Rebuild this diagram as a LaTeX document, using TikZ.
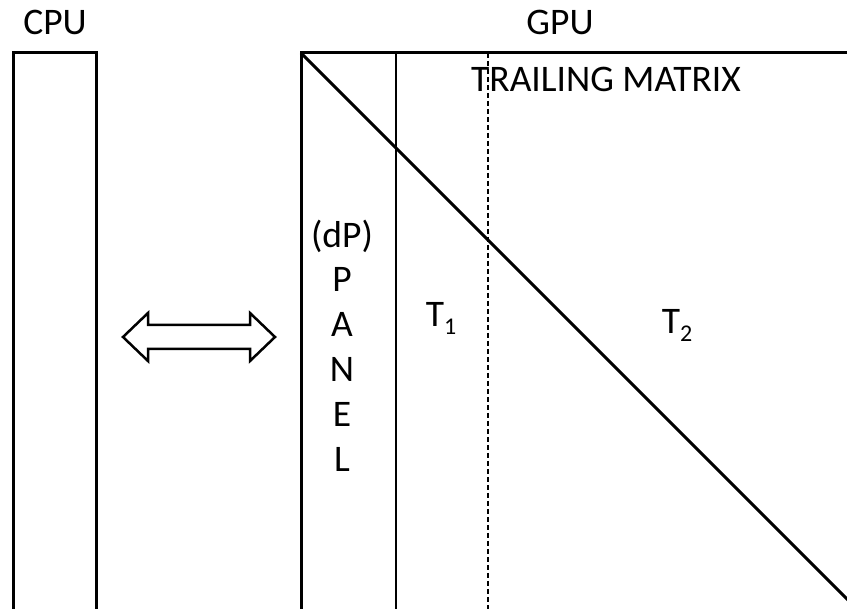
\documentclass[tikz,border=0pt]{standalone}
\usepackage{fontspec}
\setmainfont{Carlito}
\usepackage{tikz}
\usetikzlibrary{positioning}

\newcommand{\idx}[1]{\raisebox{-8pt}{\fontsize{24}{24}\selectfont #1}}

\tikzset{
  frame/.style={line width=3pt, line join=miter},
  split/.style={line width=1.3pt},
  txt/.style={anchor=base, inner sep=0pt, font=\fontsize{37.5}{45}\selectfont},
}

\begin{document}
\begin{tikzpicture}[x=1pt, y=-1pt]
\useasboundingbox (0,0) rectangle (847,609);
\clip (0,0) rectangle (847,609);

% corners of the two memories
\coordinate (cpuL) at (13,53);
\coordinate (cpuR) at (96,53);
\coordinate (gpuL) at (301,53);
\coordinate (diagEnd) at (860,612);

% CPU block (open at the bottom)
\draw[frame] (13,620) -- (cpuL) -- (cpuR) -- (96,620);
% GPU block
\draw[frame] (301,620) -- (gpuL) -- (860,53);
\draw[frame] (gpuL) -- (diagEnd);

% panel / trailing splits
\draw[split] (396,53) -- (396,620);
\draw[split, dashed, dash pattern=on 5pt off 3pt] (488,53) -- (488,620);

% transfer arrow
\draw[line width=2.5pt, line join=miter]
  (123,337) -- (148,313) -- (148,325) -- (250,325) -- (250,313) -- (275,337)
  -- (250,361) -- (250,349) -- (148,349) -- (148,361) -- cycle;

% labels
\node[txt] (cpu) at (55,35) {CPU};
\node[txt] (gpu) at (560,35) {GPU};
\node[txt] (trail) at (606,92) {TRAILING MATRIX};
\node[txt, align=center] (panel) at (342,472) {(dP)\\P\\A\\N\\E\\L};
\node[txt] (t1) at (441,327) {T\idx{1}};
\node[txt] (t2) at (677,334) {T\idx{2}};
\end{tikzpicture}
\end{document}
